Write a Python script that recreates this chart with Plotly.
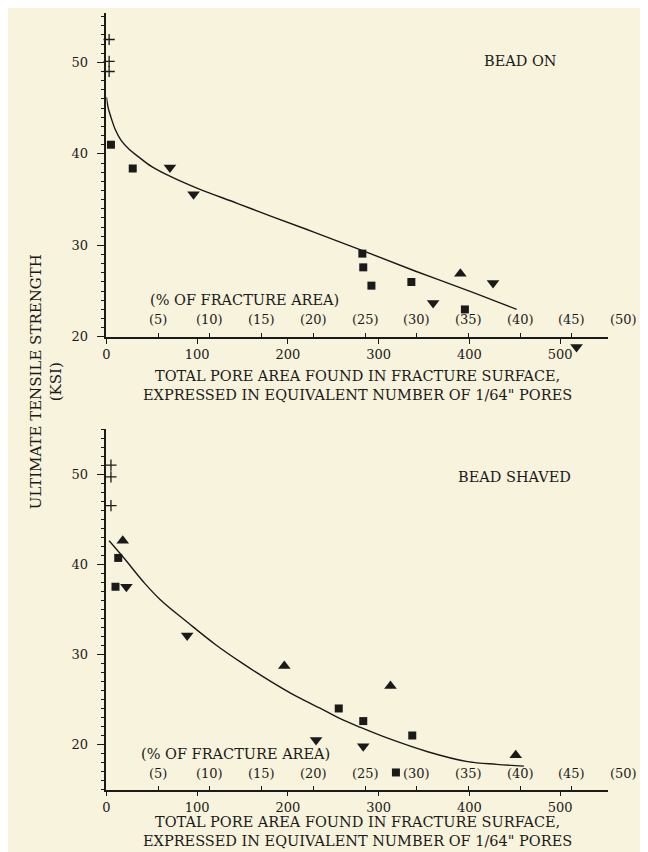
import plotly.graph_objects as go

# ---------------- data ----------------
# Top panel: BEAD ON
top_plus_x = [3, 3, 3]
top_plus_y = [52.5, 50.1, 49.0]
top_sq_x = [5, 29, 282, 283, 292, 336, 395]
top_sq_y = [41.0, 38.4, 29.1, 27.6, 25.6, 26.0, 23.0]
top_up_x = [390]
top_up_y = [26.9]
top_dn_x = [70, 96, 360, 426, 518]
top_dn_y = [38.5, 35.6, 23.7, 25.9, 18.9]
top_curve_x = [0, 2, 5, 10, 16, 25, 35, 50, 71, 101, 144, 181, 230, 283, 340, 400, 452]
top_curve_y = [46.2, 45.0, 44.0, 42.6, 41.5, 40.5, 39.7, 38.6, 37.5, 36.2, 34.6, 33.2, 31.4, 29.4, 27.2, 25.0, 23.0]

# Bottom panel: BEAD SHAVED
bot_plus_x = [5, 5, 5]
bot_plus_y = [51.0, 49.7, 46.5]
bot_up_x = [18, 196, 313, 451]
bot_up_y = [42.6, 28.7, 26.5, 18.8]
bot_sq_x = [13, 10, 256, 283, 337, 319]
bot_sq_y = [40.7, 37.5, 24.0, 22.6, 21.0, 16.9]
bot_dn_x = [22, 89, 231, 283]
bot_dn_y = [37.5, 32.1, 20.5, 19.8]
bot_curve_x = [3, 20, 42, 60, 90, 120, 150, 181, 210, 240, 257, 280, 310, 354, 398, 430, 460]
bot_curve_y = [42.6, 40.6, 37.9, 36.0, 33.5, 31.1, 29.0, 27.0, 25.3, 23.8, 22.9, 21.9, 20.7, 19.2, 18.1, 17.8, 17.6]

x_tick_vals = [0, 100, 200, 300, 400, 500]
pct_labels = [5, 10, 15, 20, 25, 30, 35, 40, 45, 50]
pores_per_pct = 11.4  # pores equivalent to 1 % of fracture area

X_MAX = 553
TOP_Y = [20, 55.4]
BOT_Y = [15, 55]
BG = "#f8f3dc"
INK = "#1a1a1a"
FONT = "DejaVu Serif"
W, H = 648, 852

# panel geometry (pixels from top-left)
X0, X1 = 95, 600
TOP_T, TOP_B = 5, 332
BOT_T, BOT_B = 425, 789
EXT = 16  # extra room below top axis for an off-scale point

fig = go.Figure()

def add_panel(xa, ya, plus_x, plus_y, sq_x, sq_y, up_x, up_y, dn_x, dn_y, cx, cy, pct_ax,
              low_ya=None, low_min=None):
    fig.add_trace(go.Scatter(x=cx, y=cy, mode="lines", line=dict(color=INK, width=1.4, shape="spline"),
                             xaxis=xa, yaxis=ya, showlegend=False, hoverinfo="skip"))
    fig.add_trace(go.Scatter(x=plus_x, y=plus_y, mode="markers",
                             marker=dict(symbol="cross-thin", size=8, line=dict(color=INK, width=1.3)),
                             xaxis=xa, yaxis=ya, showlegend=False, cliponaxis=False))
    fig.add_trace(go.Scatter(x=sq_x, y=sq_y, mode="markers",
                             marker=dict(symbol="square", size=8, color=INK),
                             xaxis=xa, yaxis=ya, showlegend=False, cliponaxis=False))
    fig.add_trace(go.Scatter(x=up_x, y=up_y, mode="markers",
                             marker=dict(symbol="triangle-up", size=11, color=INK),
                             xaxis=xa, yaxis=ya, showlegend=False, cliponaxis=False))
    # down triangles: those below the axis minimum go onto an extended invisible y axis
    in_x = [x for x, y in zip(dn_x, dn_y) if low_min is None or y >= low_min]
    in_y = [y for y in dn_y if low_min is None or y >= low_min]
    fig.add_trace(go.Scatter(x=in_x, y=in_y, mode="markers",
                             marker=dict(symbol="triangle-down", size=11, color=INK),
                             xaxis=xa, yaxis=ya, showlegend=False, cliponaxis=False))
    if low_ya is not None:
        out_x = [x for x, y in zip(dn_x, dn_y) if y < low_min]
        out_y = [y for y in dn_y if y < low_min]
        fig.add_trace(go.Scatter(x=out_x, y=out_y, mode="markers",
                                 marker=dict(symbol="triangle-down", size=11, color=INK),
                                 xaxis=xa, yaxis=low_ya, showlegend=False, cliponaxis=False))
    fig.add_trace(go.Scatter(x=[0], y=[30], mode="markers", marker=dict(opacity=0),
                             xaxis=pct_ax, yaxis=ya, showlegend=False, hoverinfo="skip"))

add_panel("x", "y", top_plus_x, top_plus_y, top_sq_x, top_sq_y, top_up_x, top_up_y,
          top_dn_x, top_dn_y, top_curve_x, top_curve_y, "x3", low_ya="y5", low_min=TOP_Y[0])
add_panel("x2", "y2", bot_plus_x, bot_plus_y, bot_sq_x, bot_sq_y, bot_up_x, bot_up_y,
          bot_dn_x, bot_dn_y, bot_curve_x, bot_curve_y, "x4")

xdom = [X0 / W, X1 / W]
top_dom = [1 - TOP_B / H, 1 - TOP_T / H]
bot_dom = [1 - BOT_B / H, 1 - BOT_T / H]
top_ppu = (TOP_B - TOP_T) / (TOP_Y[1] - TOP_Y[0])
ext_dom = [1 - (TOP_B + EXT) / H, 1 - TOP_T / H]
ext_rng = [TOP_Y[0] - EXT / top_ppu, TOP_Y[1]]

tickfont = dict(family=FONT, size=13, color=INK)

def xaxis(anchor):
    return dict(domain=xdom, range=[0, X_MAX], anchor=anchor, showgrid=False, zeroline=False,
                showline=True, linecolor=INK, linewidth=1.6,
                tickvals=x_tick_vals, ticks="outside", ticklen=5, tickcolor=INK, tickwidth=1,
                tickfont=tickfont)

def pct_axis(overlay, anchor):
    return dict(domain=xdom, range=[0, X_MAX], overlaying=overlay, anchor=anchor, showgrid=False,
                zeroline=False, showline=False,
                tickvals=[p * pores_per_pct for p in pct_labels if p * pores_per_pct < X_MAX],
                ticks="inside", ticklen=4, tickcolor=INK, tickwidth=1, showticklabels=False,
                side="bottom")

def yaxis(dom, rng, anchor):
    return dict(domain=dom, range=rng, anchor=anchor, showgrid=False, zeroline=False,
                showline=True, linecolor=INK, linewidth=1.6,
                tick0=0, dtick=10, ticks="outside", ticklen=8, tickcolor=INK, tickwidth=1.2,
                tickfont=tickfont, ticklabelstandoff=6,
                minor=dict(dtick=1, tick0=0, ticks="outside", ticklen=4, tickcolor=INK, tickwidth=1))

fig.update_layout(
    width=W, height=H, margin=dict(l=0, r=0, t=0, b=0),
    paper_bgcolor=BG, plot_bgcolor="rgba(0,0,0,0)",
    xaxis=xaxis("y"), yaxis=yaxis(top_dom, TOP_Y, "x"),
    xaxis2=xaxis("y2"), yaxis2=yaxis(bot_dom, BOT_Y, "x2"),
    xaxis3=pct_axis("x", "y"), xaxis4=pct_axis("x2", "y2"),
    yaxis5=dict(domain=ext_dom, range=ext_rng, anchor="x", visible=False, showgrid=False,
                zeroline=False),
    font=dict(family=FONT, color=INK),
)

ann = []
small = dict(family=FONT, size=13, color=INK)
big = dict(family=FONT, size=14.5, color=INK)

def pa(text, px, py, font, xanchor="center", **kw):
    ann.append(dict(x=px / W, xref="paper", y=1 - py / H, yref="paper", text=text,
                    showarrow=False, xanchor=xanchor, yanchor="middle", font=font, **kw))

for pct_y, head_x, head_y, title_y, label, lx, ly in [
    (314, 137, 295, 381, "BEAD ON", 512, 54),
    (773, 128, 753, 831, "BEAD SHAVED", 506, 473),
]:
    for p in pct_labels:
        ann.append(dict(x=xdom[0] + (xdom[1] - xdom[0]) * p * pores_per_pct / X_MAX, xref="paper",
                        y=1 - pct_y / H, yref="paper", text=f"({p})", showarrow=False,
                        xanchor="center", yanchor="middle", font=small))
    pa("(% OF FRACTURE AREA)", head_x, head_y, big, xanchor="left")
    pa("TOTAL PORE AREA FOUND IN FRACTURE SURFACE,<br>EXPRESSED IN EQUIVALENT NUMBER OF 1/64\" PORES",
       348, title_y, big, align="center")
    pa(label, lx, ly, big)

pa("ULTIMATE TENSILE STRENGTH<br>(KSI)", 35, 377, dict(family=FONT, size=15, color=INK),
   textangle=-90, align="center")

fig.update_layout(annotations=ann)
fig.write_html("out.html")
